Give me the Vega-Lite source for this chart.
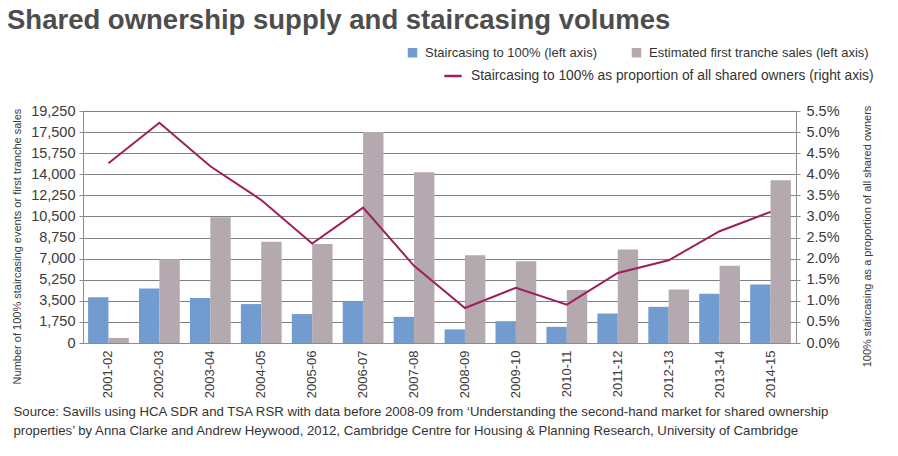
{
  "$schema": "https://vega.github.io/schema/vega-lite/v6.json",
  "width": 713,
  "height": 232,
  "autosize": {"type": "none"},
  "padding": {"left": 83, "top": 111, "right": 102, "bottom": 113},
  "background": "white",
  "config": {
    "font": "Liberation Sans",
    "view": {"stroke": "#8c8c8c", "strokeWidth": 1},
    "axis": {"labelColor": "#3a3a3a", "titleColor": "#3a3a3a", "domainColor": "#8c8c8c", "tickColor": "#8c8c8c"}
  },
  "title": {
    "text": "Shared ownership supply and staircasing volumes",
    "anchor": "start",
    "frame": "group",
    "orient": "top",
    "dx": -76,
    "offset": 12,
    "fontSize": 27.5,
    "fontWeight": "bold",
    "color": "#4d4d4d",
    "font": "Liberation Sans"
  },
  "datasets": {
    "bars": [
      {"year": "2001-02", "series": "Staircasing to 100% (left axis)", "value": 3800},
      {"year": "2001-02", "series": "Estimated first tranche sales (left axis)", "value": 420},
      {"year": "2002-03", "series": "Staircasing to 100% (left axis)", "value": 4520},
      {"year": "2002-03", "series": "Estimated first tranche sales (left axis)", "value": 6940},
      {"year": "2003-04", "series": "Staircasing to 100% (left axis)", "value": 3730},
      {"year": "2003-04", "series": "Estimated first tranche sales (left axis)", "value": 10430},
      {"year": "2004-05", "series": "Staircasing to 100% (left axis)", "value": 3230},
      {"year": "2004-05", "series": "Estimated first tranche sales (left axis)", "value": 8400},
      {"year": "2005-06", "series": "Staircasing to 100% (left axis)", "value": 2400},
      {"year": "2005-06", "series": "Estimated first tranche sales (left axis)", "value": 8210},
      {"year": "2006-07", "series": "Staircasing to 100% (left axis)", "value": 3460},
      {"year": "2006-07", "series": "Estimated first tranche sales (left axis)", "value": 17500},
      {"year": "2007-08", "series": "Staircasing to 100% (left axis)", "value": 2170},
      {"year": "2007-08", "series": "Estimated first tranche sales (left axis)", "value": 14160},
      {"year": "2008-09", "series": "Staircasing to 100% (left axis)", "value": 1130},
      {"year": "2008-09", "series": "Estimated first tranche sales (left axis)", "value": 7290},
      {"year": "2009-10", "series": "Staircasing to 100% (left axis)", "value": 1810},
      {"year": "2009-10", "series": "Estimated first tranche sales (left axis)", "value": 6790},
      {"year": "2010-11", "series": "Staircasing to 100% (left axis)", "value": 1340},
      {"year": "2010-11", "series": "Estimated first tranche sales (left axis)", "value": 4390},
      {"year": "2011-12", "series": "Staircasing to 100% (left axis)", "value": 2450},
      {"year": "2011-12", "series": "Estimated first tranche sales (left axis)", "value": 7760},
      {"year": "2012-13", "series": "Staircasing to 100% (left axis)", "value": 3000},
      {"year": "2012-13", "series": "Estimated first tranche sales (left axis)", "value": 4440},
      {"year": "2013-14", "series": "Staircasing to 100% (left axis)", "value": 4080},
      {"year": "2013-14", "series": "Estimated first tranche sales (left axis)", "value": 6400},
      {"year": "2014-15", "series": "Staircasing to 100% (left axis)", "value": 4860},
      {"year": "2014-15", "series": "Estimated first tranche sales (left axis)", "value": 13500}
    ],
    "line": [
      {"year": "2001-02", "series": "Staircasing to 100% as proportion of all shared owners (right axis)", "share": 0.0426},
      {"year": "2002-03", "series": "Staircasing to 100% as proportion of all shared owners (right axis)", "share": 0.0522},
      {"year": "2003-04", "series": "Staircasing to 100% as proportion of all shared owners (right axis)", "share": 0.0419},
      {"year": "2004-05", "series": "Staircasing to 100% as proportion of all shared owners (right axis)", "share": 0.0339},
      {"year": "2005-06", "series": "Staircasing to 100% as proportion of all shared owners (right axis)", "share": 0.0236},
      {"year": "2006-07", "series": "Staircasing to 100% as proportion of all shared owners (right axis)", "share": 0.0321},
      {"year": "2007-08", "series": "Staircasing to 100% as proportion of all shared owners (right axis)", "share": 0.0183},
      {"year": "2008-09", "series": "Staircasing to 100% as proportion of all shared owners (right axis)", "share": 0.0083},
      {"year": "2009-10", "series": "Staircasing to 100% as proportion of all shared owners (right axis)", "share": 0.0131},
      {"year": "2010-11", "series": "Staircasing to 100% as proportion of all shared owners (right axis)", "share": 0.0091},
      {"year": "2011-12", "series": "Staircasing to 100% as proportion of all shared owners (right axis)", "share": 0.0166},
      {"year": "2012-13", "series": "Staircasing to 100% as proportion of all shared owners (right axis)", "share": 0.0196},
      {"year": "2013-14", "series": "Staircasing to 100% as proportion of all shared owners (right axis)", "share": 0.0265},
      {"year": "2014-15", "series": "Staircasing to 100% as proportion of all shared owners (right axis)", "share": 0.0311}
    ]
  },
  "encoding": {
    "x": {
      "field": "year",
      "type": "nominal",
      "sort": null,
      "scale": {"paddingInner": 0.2, "paddingOuter": 0.1},
      "axis": {
        "labelAngle": -90,
        "labelFontSize": 13,
        "labelPadding": 7,
        "ticks": false,
        "domainColor": "#8c8c8c",
        "title": ["Source: Savills using HCA SDR and TSA RSR with data before 2008-09 from ‘Understanding the second-hand market for shared ownership", "properties’ by Anna Clarke and Andrew Heywood, 2012, Cambridge Centre for Housing & Planning Research, University of Cambridge"],
        "titleX": -70,
        "titleY": 62,
        "titleAlign": "left",
        "titleBaseline": "top",
        "titleFontSize": 13.2,
        "titleFontWeight": "normal",
        "titleLineHeight": 19,
        "titleColor": "#333333"
      }
    }
  },
  "layer": [
    {
      "data": {"name": "bars"},
      "mark": {"type": "bar"},
      "encoding": {
        "xOffset": {"field": "series", "type": "nominal", "sort": ["Staircasing to 100% (left axis)", "Estimated first tranche sales (left axis)"]},
        "y": {
          "field": "value",
          "type": "quantitative",
          "scale": {"domain": [0, 19250], "nice": false},
          "axis": {
            "values": [0, 1750, 3500, 5250, 7000, 8750, 10500, 12250, 14000, 15750, 17500, 19250],
            "format": ",.0f",
            "labelFontSize": 14.5,
            "labelPadding": 4,
            "tickSize": 4,
            "grid": true,
            "gridColor": "#808080",
            "gridOpacity": 1,
            "title": "Number of 100% staircasing events or first tranche sales",
            "titleFontSize": 11,
            "titleFontWeight": "normal",
            "titleX": -66,
            "titleY": 135,
            "titleAngle": 270,
            "titleAlign": "center",
            "titleBaseline": "middle"
          }
        },
        "fill": {
          "field": "series",
          "type": "nominal",
          "sort": ["Staircasing to 100% (left axis)", "Estimated first tranche sales (left axis)"],
          "scale": {"range": ["#729bd0", "#b3a9ae"]},
          "legend": {
            "title": null,
            "orient": "none",
            "direction": "horizontal",
            "legendX": 323,
            "legendY": -65,
            "symbolType": "square",
            "symbolSize": 90,
            "symbolStrokeWidth": 0,
            "labelFontSize": 13,
            "labelColor": "#333333",
            "labelOffset": 6,
            "columnPadding": 33,
            "labelLimit": 400
          }
        }
      }
    },
    {
      "data": {"name": "line"},
      "mark": {"type": "line", "strokeWidth": 2},
      "encoding": {
        "y": {
          "field": "share",
          "type": "quantitative",
          "scale": {"domain": [0, 0.055], "nice": false},
          "axis": {
            "orient": "right",
            "values": [0, 0.005, 0.01, 0.015, 0.02, 0.025, 0.03, 0.035, 0.04, 0.045, 0.05, 0.055],
            "format": ".1%",
            "labelFontSize": 14.5,
            "labelPadding": 6,
            "tickSize": 4,
            "grid": false,
            "title": "100% staircasing as a proportion of all shared owners",
            "titleFontSize": 11,
            "titleFontWeight": "normal",
            "titleX": 71,
            "titleY": 125,
            "titleAngle": 270,
            "titleAlign": "center",
            "titleBaseline": "middle"
          }
        },
        "stroke": {
          "field": "series",
          "type": "nominal",
          "scale": {"range": ["#9e1f5b"]},
          "legend": {
            "title": null,
            "orient": "none",
            "legendX": 360,
            "legendY": -45,
            "symbolType": "stroke",
            "symbolSize": 300,
            "symbolStrokeWidth": 2.5,
            "labelFontSize": 13.8,
            "labelColor": "#333333",
            "labelOffset": 8,
            "labelLimit": 500
          }
        }
      }
    }
  ],
  "resolve": {"scale": {"y": "independent", "fill": "independent", "stroke": "independent"}}
}
